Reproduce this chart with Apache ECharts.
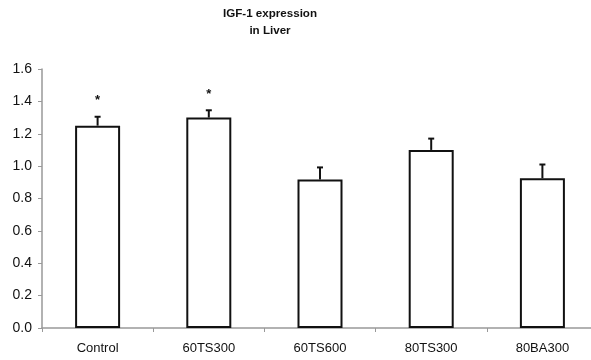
<!DOCTYPE html>
<html>
<head>
<meta charset="utf-8">
<script src="https://cdn.jsdelivr.net/npm/echarts@6/dist/echarts.min.js"></script>
<style>html,body{margin:0;padding:0;background:#fff;overflow:hidden;}#c{width:600px;height:360px;}</style>
</head>
<body>
<div id="c"></div>
<script>
var categories = ['Control', '60TS300', '60TS600', '80TS300', '80BA300'];
var values = [1.25, 1.30, 0.917, 1.10, 0.925];
var errors = [0.055, 0.045, 0.075, 0.07, 0.085];
var marks = ['*', '*', '', '', ''];
var titleLines = ['IGF-1 expression', 'in Liver'];

var chart = echarts.init(document.getElementById('c'), null, {renderer: 'canvas'});
var font = 'Liberation Sans, Arial, sans-serif';
chart.setOption({
  animation: false,
  backgroundColor: '#fff',
  graphic: titleLines.map(function (t, i) {
    return {type: 'text', style: {text: t, x: 270, y: 14 + 17 * i, textAlign: 'center', textVerticalAlign: 'middle', font: 'bold 11.6px ' + font, fill: '#111'}};
  }),
  grid: {left: 42, right: 2, top: 69, bottom: 32, containLabel: false},
  xAxis: {
    type: 'category', data: categories,
    axisLine: {lineStyle: {color: '#999', width: 1.5}},
    axisTick: {show: true, length: 4, lineStyle: {color: '#999'}, alignWithLabel: false},
    axisLabel: {fontFamily: font, fontSize: 13, color: '#111', margin: 14}
  },
  yAxis: {
    type: 'value', min: 0, max: 1.6, interval: 0.2,
    splitLine: {show: false},
    axisLine: {show: true, lineStyle: {color: '#999', width: 1.5}},
    axisTick: {show: true, length: 4, lineStyle: {color: '#999'}},
    axisLabel: {fontFamily: font, fontSize: 14, color: '#111', margin: 10,
      formatter: function (v) { return v.toFixed(1); }}
  },
  series: [
    {
      type: 'bar', data: values, barWidth: 45,
      itemStyle: {color: '#fff', borderColor: '#111', borderWidth: 2}
    },
    {
      type: 'custom',
      data: values.map(function (v, i) { return [i, v, errors[i]]; }),
      renderItem: function (params, api) {
        var i = api.value(0), v = api.value(1), e = api.value(2);
        var base = api.coord([i, v]);
        var top = api.coord([i, v + e]);
        var children = [
          {type: 'line', shape: {x1: base[0], y1: base[1], x2: top[0], y2: top[1]}, style: {stroke: '#111', lineWidth: 2}},
          {type: 'line', shape: {x1: top[0] - 3, y1: top[1], x2: top[0] + 3, y2: top[1]}, style: {stroke: '#111', lineWidth: 2}}
        ];
        var m = marks[params.dataIndex];
        if (m) {
          children.push({type: 'text', style: {text: m, x: top[0], y: top[1] - 16, textAlign: 'center', textVerticalAlign: 'middle', font: 'bold 13px ' + font, fill: '#111'}});
        }
        return {type: 'group', children: children};
      },
      z: 5
    }
  ]
});
</script>
</body>
</html>
